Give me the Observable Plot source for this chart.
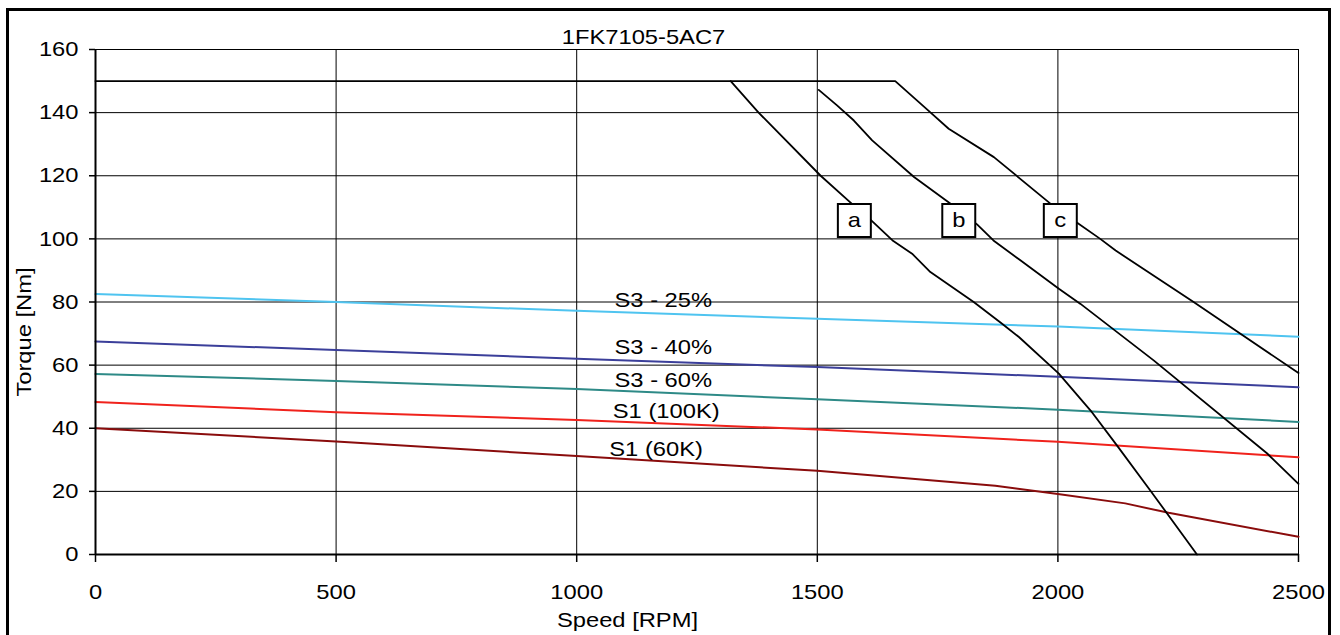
<!DOCTYPE html>
<html><head><meta charset="utf-8">
<script src="https://cdn.jsdelivr.net/npm/d3@7"></script>
<script src="https://cdn.jsdelivr.net/npm/@observablehq/plot@0.6"></script>
<style>
html,body{margin:0;padding:0;background:#fff;overflow:hidden;}
#wrap{position:relative;width:1340px;height:635px;}
#border{position:absolute;left:6px;top:8px;width:1325px;height:700px;border:3px solid #000;box-sizing:border-box;pointer-events:none;}
</style></head><body><div id="wrap"><div id="chart"></div><div id="border"></div></div>
<script>
const title = "1FK7105-5AC7";
const xLabel = "Speed [RPM]";
const yLabel = "Torque [Nm]";
const xTicks = [0, 500, 1000, 1500, 2000, 2500];
const yTicks = [0, 20, 40, 60, 80, 100, 120, 140, 160];

// Duty-cycle curves (coloured)
const dutyNames = ["S3 - 25%", "S3 - 40%", "S3 - 60%", "S1 (100K)", "S1 (60K)"];
const dutyColors = ["#4fc4f0", "#3b3f9a", "#2e8a87", "#f0221c", "#8a0c0c"];
const dutySpeeds = [
  [0, 500, 1000, 1500, 2000, 2500],
  [0, 500, 1000, 1500, 2000, 2500],
  [0, 500, 1000, 1500, 2000, 2500],
  [0, 500, 1000, 1500, 2000, 2500],
  [0, 500, 1000, 1500, 1870, 2000, 2140, 2230, 2500]
];
const dutyTorques = [
  [82.5, 80.0, 77.2, 74.7, 72.2, 69.0],
  [67.5, 64.8, 62.0, 59.4, 56.3, 53.0],
  [57.2, 55.0, 52.4, 49.2, 45.9, 42.0],
  [48.3, 45.1, 42.6, 39.6, 35.7, 30.8],
  [40.0, 35.8, 31.2, 26.5, 21.8, 19.2, 16.2, 13.2, 5.6]
];
const dutyLabelSpeed = [1180, 1180, 1180, 1186, 1165];
const dutyLabelTorque = [80.5, 65.7, 55.3, 45.4, 33.3];

// Voltage limit curves (black)
const limitNames = ["a", "b", "c"];
const limitSpeeds = [
  [1320, 1378, 1507, 1572, 1611, 1658, 1697, 1735, 1825, 1884, 1919, 2002, 2047, 2068, 2123, 2192, 2289],
  [1503, 1541, 1576, 1614, 1701, 1777, 1832, 1866, 1922, 2002, 2047, 2199, 2435, 2500],
  [0, 1662, 1735, 1773, 1867, 1985, 2040, 2088, 2120, 2282, 2500]
];
const limitTorques = [
  [150, 140, 120, 111.1, 106, 99.3, 95.3, 89.5, 80, 73.1, 68.9, 57.3, 49.3, 45.6, 34.5, 20.3, 0],
  [147.2, 142.3, 137.5, 131.2, 119.6, 111.1, 104.6, 99.5, 93.2, 84.2, 79.4, 61.5, 32.0, 22.4],
  [150, 150, 140.1, 134.9, 125.9, 111.1, 105.1, 100, 96.3, 80, 57.5]
];
const boxSpeed = [1577, 1794, 2005];
const boxTorque = [105.8, 105.8, 105.8];

const FONT = "Liberation Sans, Arial, Helvetica, sans-serif";
const FS = 21;

const marks = [
  Plot.gridY(yTicks, {stroke: "#000", strokeOpacity: 1, strokeWidth: 1}),
  Plot.gridX(xTicks, {stroke: "#000", strokeOpacity: 1, strokeWidth: 1})
];
dutyNames.forEach((n, i) => {
  const rows = dutySpeeds[i].map((s, j) => ({speed: s, torque: dutyTorques[i][j]}));
  marks.push(Plot.line(rows, {x: "speed", y: "torque", stroke: dutyColors[i], strokeWidth: 2}));
});
limitNames.forEach((n, i) => {
  const rows = limitSpeeds[i].map((s, j) => ({speed: s, torque: limitTorques[i][j]}));
  marks.push(Plot.line(rows, {x: "speed", y: "torque", stroke: "#000", strokeWidth: 1.8}));
});
marks.push(
  Plot.ruleX([0], {stroke: "#000", strokeWidth: 2}),
  Plot.ruleY([0], {stroke: "#000", strokeWidth: 2}),
  Plot.axisY({ticks: yTicks, tickSize: 6, tickPadding: 11, label: null, fontSize: FS, strokeWidth: 1.5}),
  Plot.axisX({ticks: xTicks, tickSize: 8, tickPadding: 22, label: null, fontSize: FS, strokeWidth: 1.5, tickFormat: d => String(d)}),
  Plot.dot(limitNames.map((n, i) => ({n, speed: boxSpeed[i], torque: boxTorque[i]})),
    {x: "speed", y: "torque", symbol: "square", r: 18.6, fill: "#fff", stroke: "#000", strokeWidth: 2}),
  Plot.text(limitNames.map((n, i) => ({n, speed: boxSpeed[i], torque: boxTorque[i]})),
    {x: "speed", y: "torque", text: "n", fontSize: FS, fill: "#000"}),
  Plot.text(dutyNames.map((n, i) => ({n, speed: dutyLabelSpeed[i], torque: dutyLabelTorque[i]})),
    {x: "speed", y: "torque", text: "n", fontSize: FS, fill: "#000"}),
  Plot.text([title], {frameAnchor: "top", textAnchor: "middle", lineAnchor: "middle", dx: -53.5, dy: -12, fontSize: FS, fill: "#000"}),
  Plot.text([xLabel], {frameAnchor: "bottom", textAnchor: "middle", lineAnchor: "middle", dx: -69.5, dy: 66, fontSize: FS, fill: "#000"}),
  Plot.text([yLabel], {frameAnchor: "left", textAnchor: "middle", lineAnchor: "middle", dx: -71, dy: 30, rotate: -90, fontSize: FS, fill: "#000"})
);

const chart = Plot.plot({
  width: 1340, height: 635,
  marginLeft: 95, marginRight: 42, marginTop: 49, marginBottom: 81,
  x: {domain: [0, 2500]},
  y: {domain: [0, 160]},
  style: {fontFamily: FONT, fontSize: FS + "px", color: "#000", background: "#fff", overflow: "visible"},
  marks
});
document.getElementById("chart").appendChild(chart);
chart.querySelectorAll("text").forEach(t => {
  const w = t.getComputedTextLength();
  if (w > 0) {
    t.setAttribute("textLength", (w * 1.13).toFixed(1));
    t.setAttribute("lengthAdjust", "spacingAndGlyphs");
  }
});
</script></body></html>
